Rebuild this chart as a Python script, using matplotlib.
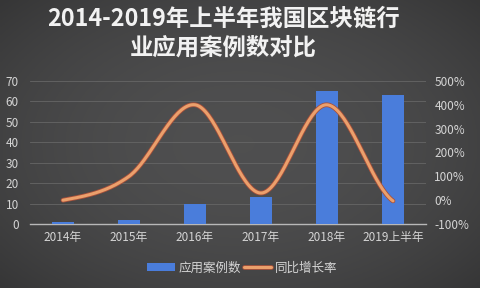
import numpy as np
import matplotlib
matplotlib.use("Agg")
import matplotlib.pyplot as plt
import matplotlib.patheffects as pe

plt.rcParams['font.family'] = ['Noto Sans CJK SC', 'DejaVu Sans']

categories = ["2014年", "2015年", "2016年", "2017年", "2018年", "2019上半年"]
cases = [1, 2, 10, 13, 65, 63]
growth = [0, 100, 400, 30, 400, -3]
left_ticks = [0, 10, 20, 30, 40, 50, 60, 70]
right_ticks = [-100, 0, 100, 200, 300, 400, 500]
title_line1 = "2014-2019年上半年我国区块链行"
title_line2 = "业应用案例数对比"
legend_labels = ["应用案例数", "同比增长率"]

fig = plt.figure(figsize=(4.8, 2.88), dpi=100)

# background gradient
bg = fig.add_axes([0, 0, 1, 1], zorder=-10)
yy, xx = np.mgrid[0:1:200j, 0:1:300j]
r = np.sqrt(((xx - 0.5) / 0.85) ** 2 + ((yy - 0.5) / 0.9) ** 2)
val = 0.31 - 0.15 * np.clip(r, 0, 1) ** 2
bg.imshow(np.dstack([val, val, val * 1.01]), extent=[0, 1, 0, 1], aspect='auto', origin='lower')
bg.axis('off')

ax = fig.add_axes([0.0625, 0.222, 0.825, 0.497])
ax.patch.set_alpha(0)
x = np.arange(len(categories))
bars = ax.bar(x, cases, width=0.32, color='#4a7ddb', edgecolor='none', zorder=3)
ax.set_xlim(-0.5, len(categories) - 0.5)
ax.set_ylim(0, 70)
ax.set_yticks(left_ticks)
ax.set_xticks(x)
ax.set_xticklabels(categories)
for s in ['top', 'right', 'left']:
    ax.spines[s].set_visible(False)
ax.spines['bottom'].set_color('#b8b8b8')
ax.spines['bottom'].set_linewidth(1.0)
ax.grid(axis='y', color='#666666', linewidth=0.6, zorder=0)
ax.tick_params(axis='both', length=0, colors='#d4d4d4', labelsize=8.5)
ax.tick_params(axis='x', pad=5)
ax.tick_params(axis='y', pad=8)

ax2 = ax.twinx()
ax2.set_ylim(-100, 500)
ax2.set_yticks(right_ticks)
ax2.set_yticklabels([f"{t}%" for t in right_ticks])
for s in ax2.spines.values():
    s.set_visible(False)
ax2.tick_params(axis='y', length=0, colors='#d4d4d4', labelsize=8.5, pad=6)

# Catmull-Rom smoothing of the data points (Excel-style smoothed line)
pts = np.array(growth, dtype=float)
xs, ys = [], []
n = len(pts)
for i in range(n - 1):
    p0 = pts[i - 1] if i > 0 else pts[i]
    p1, p2 = pts[i], pts[i + 1]
    p3 = pts[i + 2] if i + 2 < n else pts[i + 1]
    t = np.linspace(0, 1, 40)
    yv = 0.5 * ((2 * p1) + (-p0 + p2) * t + (2 * p0 - 5 * p1 + 4 * p2 - p3) * t ** 2
                + (-p0 + 3 * p1 - 3 * p2 + p3) * t ** 3)
    xs.extend(i + t)
    ys.extend(yv)
line, = ax2.plot(xs, ys, color='#eba06c', linewidth=2.2, zorder=4,
                 solid_capstyle='round',
                 path_effects=[pe.Stroke(linewidth=3.4, foreground='#a8503a'), pe.Normal()])

fig.text(0.465, 0.935, title_line1, ha='center', va='center',
         fontsize=16.8, fontweight='bold', color='#f2f2f2')
fig.text(0.465, 0.835, title_line2, ha='center', va='center',
         fontsize=16.8, fontweight='bold', color='#f2f2f2')

leg = fig.legend([bars, line], legend_labels, loc='center', bbox_to_anchor=(0.505, 0.07),
                 ncol=2, frameon=False, fontsize=9, labelcolor='#d4d4d4',
                 handlelength=2.2, handletextpad=0.3, columnspacing=0.2)

fig.savefig("out.png", dpi=100, facecolor='#333333')
